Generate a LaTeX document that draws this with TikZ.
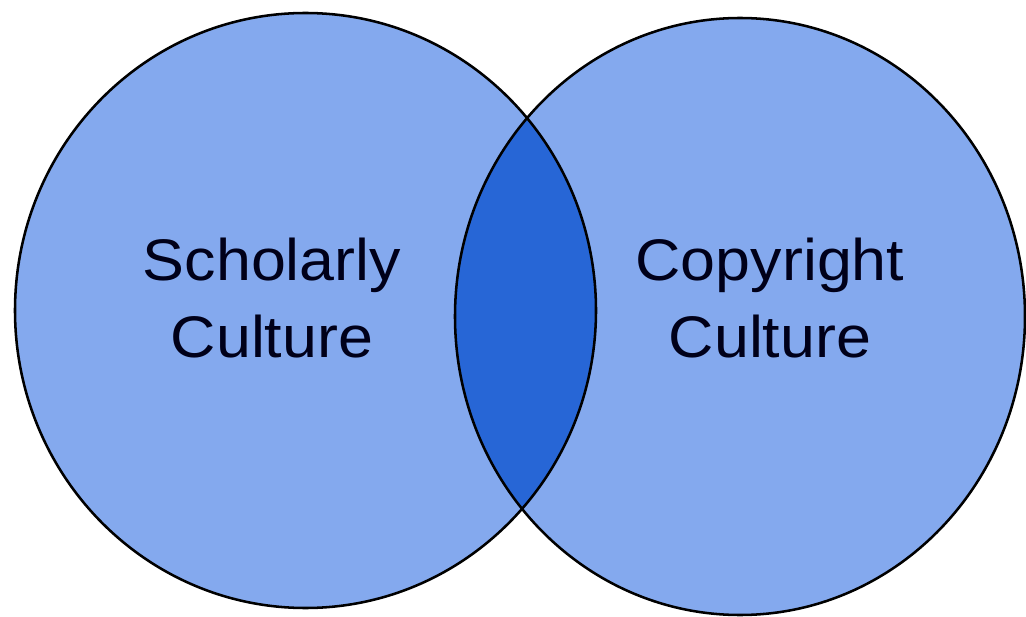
\documentclass[tikz,border=0pt]{standalone}
\usepackage{fontspec}
\setmainfont{Liberation Sans}
\definecolor{setfill}{RGB}{132,169,238}
\definecolor{lensfill}{RGB}{39,102,214}
\tikzset{
  setline/.style={draw=black, line width=1.9pt},
  setlabel/.style={align=center, inner sep=0pt, xscale=1.07,
    font=\fontsize{44}{58}\selectfont, text=black!90!blue}
}

\begin{document}
\begin{tikzpicture}[x=0.75pt,y=0.75pt,yscale=-1,xscale=1]
\useasboundingbox (0,0) rectangle (1026,617);

% centres of the two sets
\coordinate (scholarly) at (305.5,310.5);
\coordinate (copyright) at (740,316.5);

% Filled sets
\fill [setfill] (scholarly) ellipse [x radius=290.5, y radius=297.5];
\fill [setfill] (copyright) ellipse [x radius=285, y radius=298.5];

% Overlap
\begin{scope}
\clip (scholarly) ellipse [x radius=290.5, y radius=297.5];
\fill [lensfill] (copyright) ellipse [x radius=285, y radius=298.5];
\end{scope}

% Outlines
\draw [setline] (scholarly) ellipse [x radius=290.5, y radius=297.5];
\draw [setline] (copyright) ellipse [x radius=285, y radius=298.5];

% Text Node
\node (scholarlylabel) [setlabel] at (272,298) {Scholarly\\Culture};
% Text Node
\node (copyrightlabel) [setlabel] at (770,298) {Copyright\\Culture};

\end{tikzpicture}
\end{document}
